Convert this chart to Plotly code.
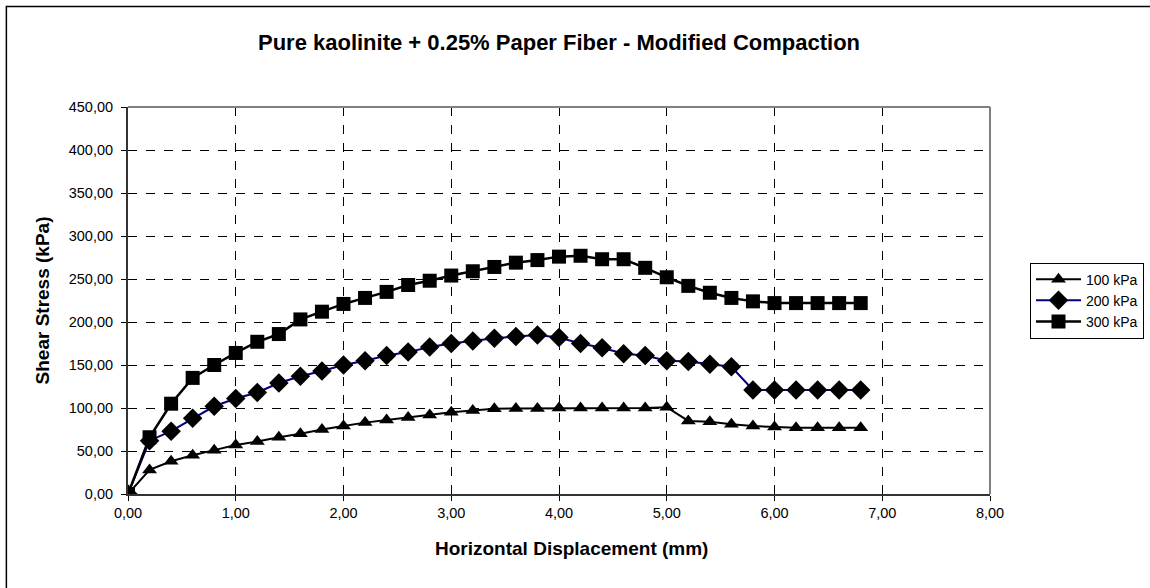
import plotly.graph_objects as go

# Horizontal displacement (mm), sampled every 0.2 mm
displacement = [0.0, 0.2, 0.4, 0.6, 0.8, 1.0, 1.2, 1.4, 1.6, 1.8, 2.0, 2.2, 2.4, 2.6, 2.8,
                3.0, 3.2, 3.4, 3.6, 3.8, 4.0, 4.2, 4.4, 4.6, 4.8, 5.0, 5.2, 5.4, 5.6, 5.8,
                6.0, 6.2, 6.4, 6.6, 6.8]

# Shear stress (kPa) for each normal stress
stress_100 = [0, 28, 38, 45, 51, 57, 61, 66, 70, 75, 79, 83, 86, 89, 92,
              95, 97, 99, 99.5, 99.5, 100, 100, 100, 100, 100, 101, 85, 84, 81, 79,
              78, 77, 77, 77, 77]
stress_200 = [0, 62, 73, 88, 102, 111, 118, 129, 137, 143, 150, 155, 161, 165, 171,
              175, 178, 181, 183, 185, 182, 175, 170, 163, 161, 155, 154, 151, 148, 121,
              121, 121, 121, 121, 121]
stress_300 = [0, 66, 105, 135, 150, 164, 177, 186, 203, 212, 221, 228, 235, 243, 248,
              254, 259, 264, 269, 272, 276, 277, 273, 273, 263, 252, 242, 234, 228, 224,
              222, 222, 222, 222, 222]

series_names = ["100 kPa", "200 kPa", "300 kPa"]

FONT = "Liberation Sans, Arial, sans-serif"

fig = go.Figure()
fig.add_trace(go.Scatter(
    x=displacement, y=stress_100, name=series_names[0], mode="lines+markers",
    line=dict(color="black", width=2),
    marker=dict(symbol="triangle-up", size=13, color="black"),
))
fig.add_trace(go.Scatter(
    x=displacement, y=stress_200, name=series_names[1], mode="lines+markers",
    line=dict(color="#000080", width=2),
    marker=dict(symbol="diamond", size=15, color="black"),
))
fig.add_trace(go.Scatter(
    x=displacement, y=stress_300, name=series_names[2], mode="lines+markers",
    line=dict(color="black", width=2.5),
    marker=dict(symbol="square", size=14, color="black"),
))

grid = dict(showgrid=True, gridcolor="black", gridwidth=1, griddash="dash")

fig.update_layout(
    width=1150, height=588,
    margin=dict(l=128, r=160, t=107, b=94, pad=0, autoexpand=False),
    paper_bgcolor="white", plot_bgcolor="white",
    separators=",.",
    font=dict(family=FONT, color="black", size=14.5),
    title=dict(
        text="<b>Pure kaolinite + 0.25% Paper Fiber - Modified Compaction</b>",
        x=0.5, xref="paper", xanchor="center",
        y=1 - 42 / 588, yref="container", yanchor="middle",
        font=dict(size=22, family=FONT),
    ),
    xaxis=dict(
        range=[0, 8], dtick=1, tick0=0, tickformat=".2f",
        showline=True, linecolor="#333333", linewidth=2,
        ticks="outside", ticklen=5, tickcolor="black",
        ticklabelstandoff=0,
        zeroline=False, mirror=False,
        **grid,
    ),
    yaxis=dict(
        range=[0, 450], dtick=50, tick0=0, tickformat=".2f",
        showline=True, linecolor="#333333", linewidth=2,
        ticks="outside", ticklen=5, tickcolor="black",
        ticklabelstandoff=5,
        zeroline=False, mirror=False,
        title=dict(text="<b>Shear Stress (kPa)</b>", font=dict(size=19), standoff=14),
        **grid,
    ),
    legend=dict(
        x=1.0464, xanchor="left", y=0.598, yanchor="top",
        bordercolor="black", borderwidth=1, bgcolor="white",
        font=dict(size=14, family=FONT),
        tracegroupgap=0, itemwidth=45,
    ),
    showlegend=True,
)

# X-axis title
fig.add_annotation(
    text="<b>Horizontal Displacement (mm)</b>", xref="paper", yref="paper",
    x=0.514, y=(493.7 - 548) / 387, xanchor="center", yanchor="middle",
    showarrow=False, font=dict(size=19, family=FONT),
)

# Gray plot-area border along top and right
fig.add_shape(type="line", xref="paper", yref="paper", x0=0, y0=1, x1=1, y1=1,
              line=dict(color="#808080", width=2))
fig.add_shape(type="line", xref="paper", yref="paper", x0=1, y0=0, x1=1, y1=1,
              line=dict(color="#808080", width=2))

# Chart frame (left and top edges)
fig.add_shape(type="rect", xref="paper", yref="paper",
              x0=-0.1411, y0=-0.6, x1=1.6, y1=1.26,
              line=dict(color="black", width=1.5), layer="below")

fig.write_html("out.html")
